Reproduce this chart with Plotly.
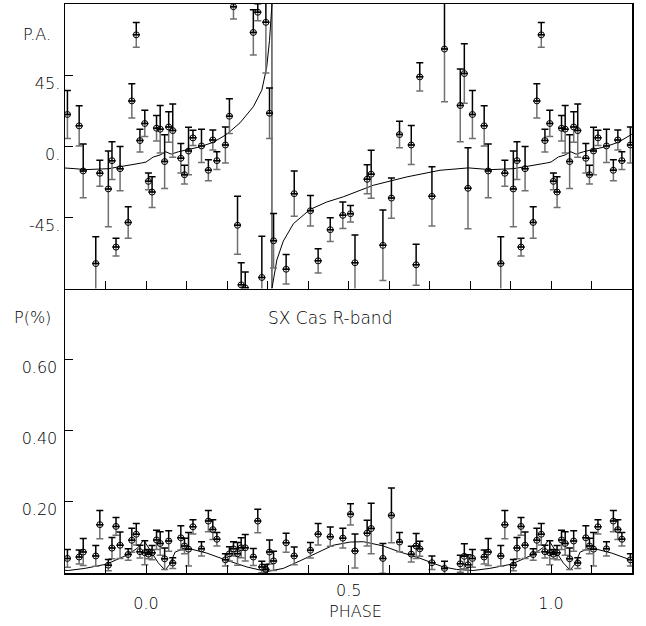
import plotly.graph_objects as go

# ---------------- data (phase 0..1, repeated by period 1 on the plot) ----------------
phase = [0.006, 0.015, 0.026, 0.035, 0.046, 0.056, 0.066, 0.086, 0.095, 0.105,
         0.116, 0.137, 0.154, 0.165, 0.175, 0.196, 0.206, 0.216, 0.226, 0.235,
         0.245, 0.265, 0.276, 0.286, 0.296, 0.305, 0.315, 0.346, 0.366, 0.406,
         0.425, 0.455, 0.486, 0.505, 0.516, 0.546, 0.556, 0.585, 0.606, 0.626,
         0.655, 0.667, 0.676, 0.706, 0.737, 0.776, 0.786, 0.795, 0.806, 0.835,
         0.845, 0.876, 0.886, 0.907, 0.916, 0.926, 0.936, 0.956, 0.965, 0.976,
         0.985, 0.997]
pa = [-22.2, -29.0, 11.4, 10.8, -9.7, 12.2, 9.9, -7.6, -18.0, -3.0,
      5.3, 0.2, -15.2, 4.0, -9.1, 0.8, 19.0, 88.3, -50.0, -87.7,
      -89.6, 72.0, 84.8, -83.0, 78.4, 20.9, -59.8, -77.8, -30.0, -40.8,
      -72.5, -52.8, -43.7, -42.7, -73.7, -20.9, -17.7, -62.7, -32.8, 7.4,
      0.8, -75.0, 43.9, -31.7, 61.5, 25.8, 46.0, -26.6, 20.1, 12.9,
      -15.6, -74.2, -17.1, -27.0, -9.1, -63.8, -14.2, -48.2, 28.7, 70.5,
      3.6, 14.4]
pa_err = [5.3, 9.7, 8.0, 15.0, 17.0, 9.7, 16.8, 9.3, 5.9, 15.0,
          4.9, 10.5, 6.6, 6.3, 5.6, 11.4, 11.0, 7.8, 18.4, 14.0,
          10.0, 14.3, 5.4, 26.0, 32.0, 16.0, 17.3, 9.3, 14.3, 9.6,
          7.7, 7.5, 8.4, 5.2, 17.5, 9.2, 15.2, 22.3, 12.7, 8.4,
          12.4, 13.0, 9.0, 18.8, 33.4, 23.0, 18.8, 25.6, 15.2, 12.8,
          17.0, 17.0, 8.2, 24.0, 12.0, 5.6, 14.0, 10.0, 10.8, 7.8,
          7.2, 8.3]
pol = [0.053, 0.057, 0.093, 0.083, 0.040, 0.090, 0.028, 0.099, 0.076, 0.067,
       0.130, 0.068, 0.146, 0.122, 0.095, 0.037, 0.054, 0.068, 0.054, 0.071,
       0.071, 0.045, 0.146, 0.017, 0.010, 0.059, 0.034, 0.085, 0.048, 0.064,
       0.109, 0.102, 0.098, 0.165, 0.062, 0.112, 0.125, 0.041, 0.162, 0.087,
       0.053, 0.076, 0.068, 0.029, 0.013, 0.026, 0.047, 0.023, 0.041, 0.045,
       0.059, 0.048, 0.136, 0.022, 0.070, 0.131, 0.078, 0.052, 0.092, 0.109,
       0.060, 0.057]
pol_err = [0.013, 0.020, 0.027, 0.033, 0.030, 0.029, 0.015, 0.034, 0.022, 0.047,
           0.020, 0.020, 0.030, 0.028, 0.019, 0.017, 0.020, 0.020, 0.032, 0.028,
           0.037, 0.024, 0.033, 0.016, 0.014, 0.034, 0.027, 0.027, 0.025, 0.022,
           0.030, 0.027, 0.028, 0.030, 0.048, 0.036, 0.071, 0.042, 0.077, 0.027,
           0.022, 0.035, 0.021, 0.019, 0.020, 0.024, 0.035, 0.028, 0.025, 0.020,
           0.038, 0.029, 0.040, 0.016, 0.030, 0.025, 0.037, 0.016, 0.034, 0.030,
           0.018, 0.034]

# model curves (one period)
pa_model_phase = [0.000, 0.018, 0.035, 0.049, 0.062, 0.080, 0.105, 0.133, 0.166, 0.199,
                  0.232, 0.265, 0.286, 0.298, 0.305, 0.309, 0.311, 0.311, 0.314, 0.323,
                  0.339, 0.364, 0.405, 0.446, 0.487, 0.561, 0.644, 0.726, 0.796, 0.825,
                  0.850, 0.907, 0.950, 0.989, 1.000]
pa_model = [-10.0, -6.8, -5.5, -3.5, -5.0, -3.5, -2.0, -0.4, 2.5, 7.5,
            14.8, 25.0, 35.5, 50.0, 67.0, 86.0, 90.0, -90.0, -86.0, -72.0,
            -60.0, -49.0, -40.0, -35.3, -32.0, -24.7, -19.4, -15.2, -13.7, -14.2,
            -14.8, -14.2, -12.5, -10.6, -10.0]
pol_model_phase = [0.000, 0.010, 0.030, 0.047, 0.059, 0.072, 0.092, 0.109, 0.150, 0.196,
                   0.249, 0.298, 0.339, 0.380, 0.421, 0.462, 0.504, 0.537, 0.586, 0.627,
                   0.668, 0.706, 0.734, 0.767, 0.808, 0.849, 0.903, 0.956, 0.981, 0.994,
                   1.000]
pol_model = [0.082, 0.067, 0.029, 0.008, 0.025, 0.059, 0.068, 0.068, 0.056, 0.037,
             0.017, 0.004, 0.013, 0.034, 0.057, 0.078, 0.087, 0.088, 0.076, 0.059,
             0.045, 0.029, 0.017, 0.010, 0.007, 0.013, 0.025, 0.052, 0.072, 0.093,
             0.082]

period_shifts = [-1, 0, 1]
x_range = [-0.2, 1.2]
x_tick_vals = [-0.2, -0.1, 0.0, 0.1, 0.2, 0.3, 0.4, 0.5, 0.6, 0.7, 0.8, 0.9, 1.0, 1.1, 1.2]
x_tick_text = ["", "", "0.0", "", "", "", "", "", "", "", "", "", "1.0", "", ""]
pa_tick_vals = [-45, 0, 45]
pa_tick_text = ["-45.", "0.", "45."]
pol_tick_vals = [0.2, 0.4, 0.6]
pol_tick_text = ["0.20", "0.40", "0.60"]


def fold(xs, *cols):
    ox = []
    oc = [[] for _ in cols]
    for s in period_shifts:
        for i, x in enumerate(xs):
            xv = x + s
            if x_range[0] - 1e-9 <= xv <= x_range[1] + 1e-9:
                ox.append(xv)
                for k, c in enumerate(cols):
                    oc[k].append(c[i])
    return [ox] + oc


def tile(xs, ys):
    ox, oy = [], []
    for s in period_shifts:
        ox += [x + s for x in xs]
        oy += list(ys)
    return ox, oy


FONT = "DejaVu Sans"
TXT = "#000000"
WEIGHT = 200
fig = go.Figure()


def add_panel(xa, ya, mx, my, px, py, pe):
    fx, fy, fe = fold(px, py, pe)
    zeros = [0] * len(fx)
    fig.add_trace(go.Scatter(x=mx, y=my, mode="lines", line=dict(color="black", width=1),
                             xaxis=xa, yaxis=ya, showlegend=False, hoverinfo="skip"))
    fig.add_trace(go.Scatter(x=fx, y=fy, mode="markers",
                             marker=dict(size=1, color="rgba(0,0,0,0)"),
                             error_y=dict(type="data", symmetric=False, array=zeros, arrayminus=fe,
                                          color="#707070", thickness=1.5, width=3.5),
                             xaxis=xa, yaxis=ya, showlegend=False))
    fig.add_trace(go.Scatter(x=fx, y=fy, mode="markers",
                             marker=dict(symbol="circle-open", size=6, color="black",
                                         line=dict(width=1, color="black")),
                             error_y=dict(type="data", symmetric=False, array=fe, arrayminus=zeros,
                                          color="black", thickness=1.5, width=3.5),
                             xaxis=xa, yaxis=ya, showlegend=False))


mx, my = tile(pa_model_phase, pa_model)
add_panel("x", "y", mx, my, phase, pa, pa_err)
mx2, my2 = tile(pol_model_phase, pol_model)
add_panel("x2", "y2", mx2, my2, phase, pol, pol_err)

axis_common = dict(showline=True, linecolor="black", linewidth=1.5,
                   ticks="inside", ticklen=8, tickcolor="black", tickwidth=1,
                   showgrid=False, zeroline=False, automargin=False,
                   tickfont=dict(family=FONT, size=16, color=TXT, weight=WEIGHT))

fig.update_layout(
    width=646, height=626,
    margin=dict(l=65, r=14, t=4, b=53),
    paper_bgcolor="white", plot_bgcolor="white",
    xaxis=dict(domain=[0, 1], anchor="y", range=x_range, tickvals=x_tick_vals,
               showticklabels=False, mirror=True, **axis_common),
    yaxis=dict(domain=[0.5, 1], anchor="x", range=[-90, 90], tickvals=pa_tick_vals,
               ticktext=pa_tick_text, ticklabelstandoff=0, ticklabelshift=8,
               mirror=True, **axis_common),
    xaxis2=dict(domain=[0, 1], anchor="y2", range=x_range, tickvals=x_tick_vals,
                ticktext=x_tick_text, ticklabelstandoff=15, mirror=False, **axis_common),
    yaxis2=dict(domain=[0, 0.5], anchor="x2", range=[0, 0.8], tickvals=pol_tick_vals,
                ticktext=pol_tick_text, ticklabelstandoff=3, ticklabelshift=8,
                mirror=True, **axis_common),
)

ann_font = dict(family=FONT, size=16, color=TXT, weight=WEIGHT)
fig.add_annotation(text="P.A.", xref="paper", yref="paper", x=-0.0494, y=0.9464,
                   xanchor="center", yanchor="middle", showarrow=False, font=ann_font)
fig.add_annotation(text="P(%)", xref="paper", yref="paper", x=-0.0582, y=0.4482,
                   xanchor="center", yanchor="middle", showarrow=False, font=ann_font)
fig.add_annotation(text="SX Cas R-band", xref="paper", yref="paper", x=0.4674, y=0.4482,
                   xanchor="center", yanchor="middle", showarrow=False,
                   font=dict(family=FONT, size=17, color=TXT, weight=WEIGHT))
fig.add_annotation(text="PHASE", xref="paper", yref="paper", x=0.5132, y=-0.0668,
                   xanchor="center", yanchor="middle", showarrow=False, font=ann_font)
fig.add_annotation(text="0.5", xref="x2", yref="paper", x=0.5, y=-0.0299,
                   xanchor="center", yanchor="middle", showarrow=False, font=ann_font)

fig.write_html("out.html", config={"displayModeBar": False, "staticPlot": True},
               post_script="document.body.style.margin='0';document.body.style.overflow='hidden';")
